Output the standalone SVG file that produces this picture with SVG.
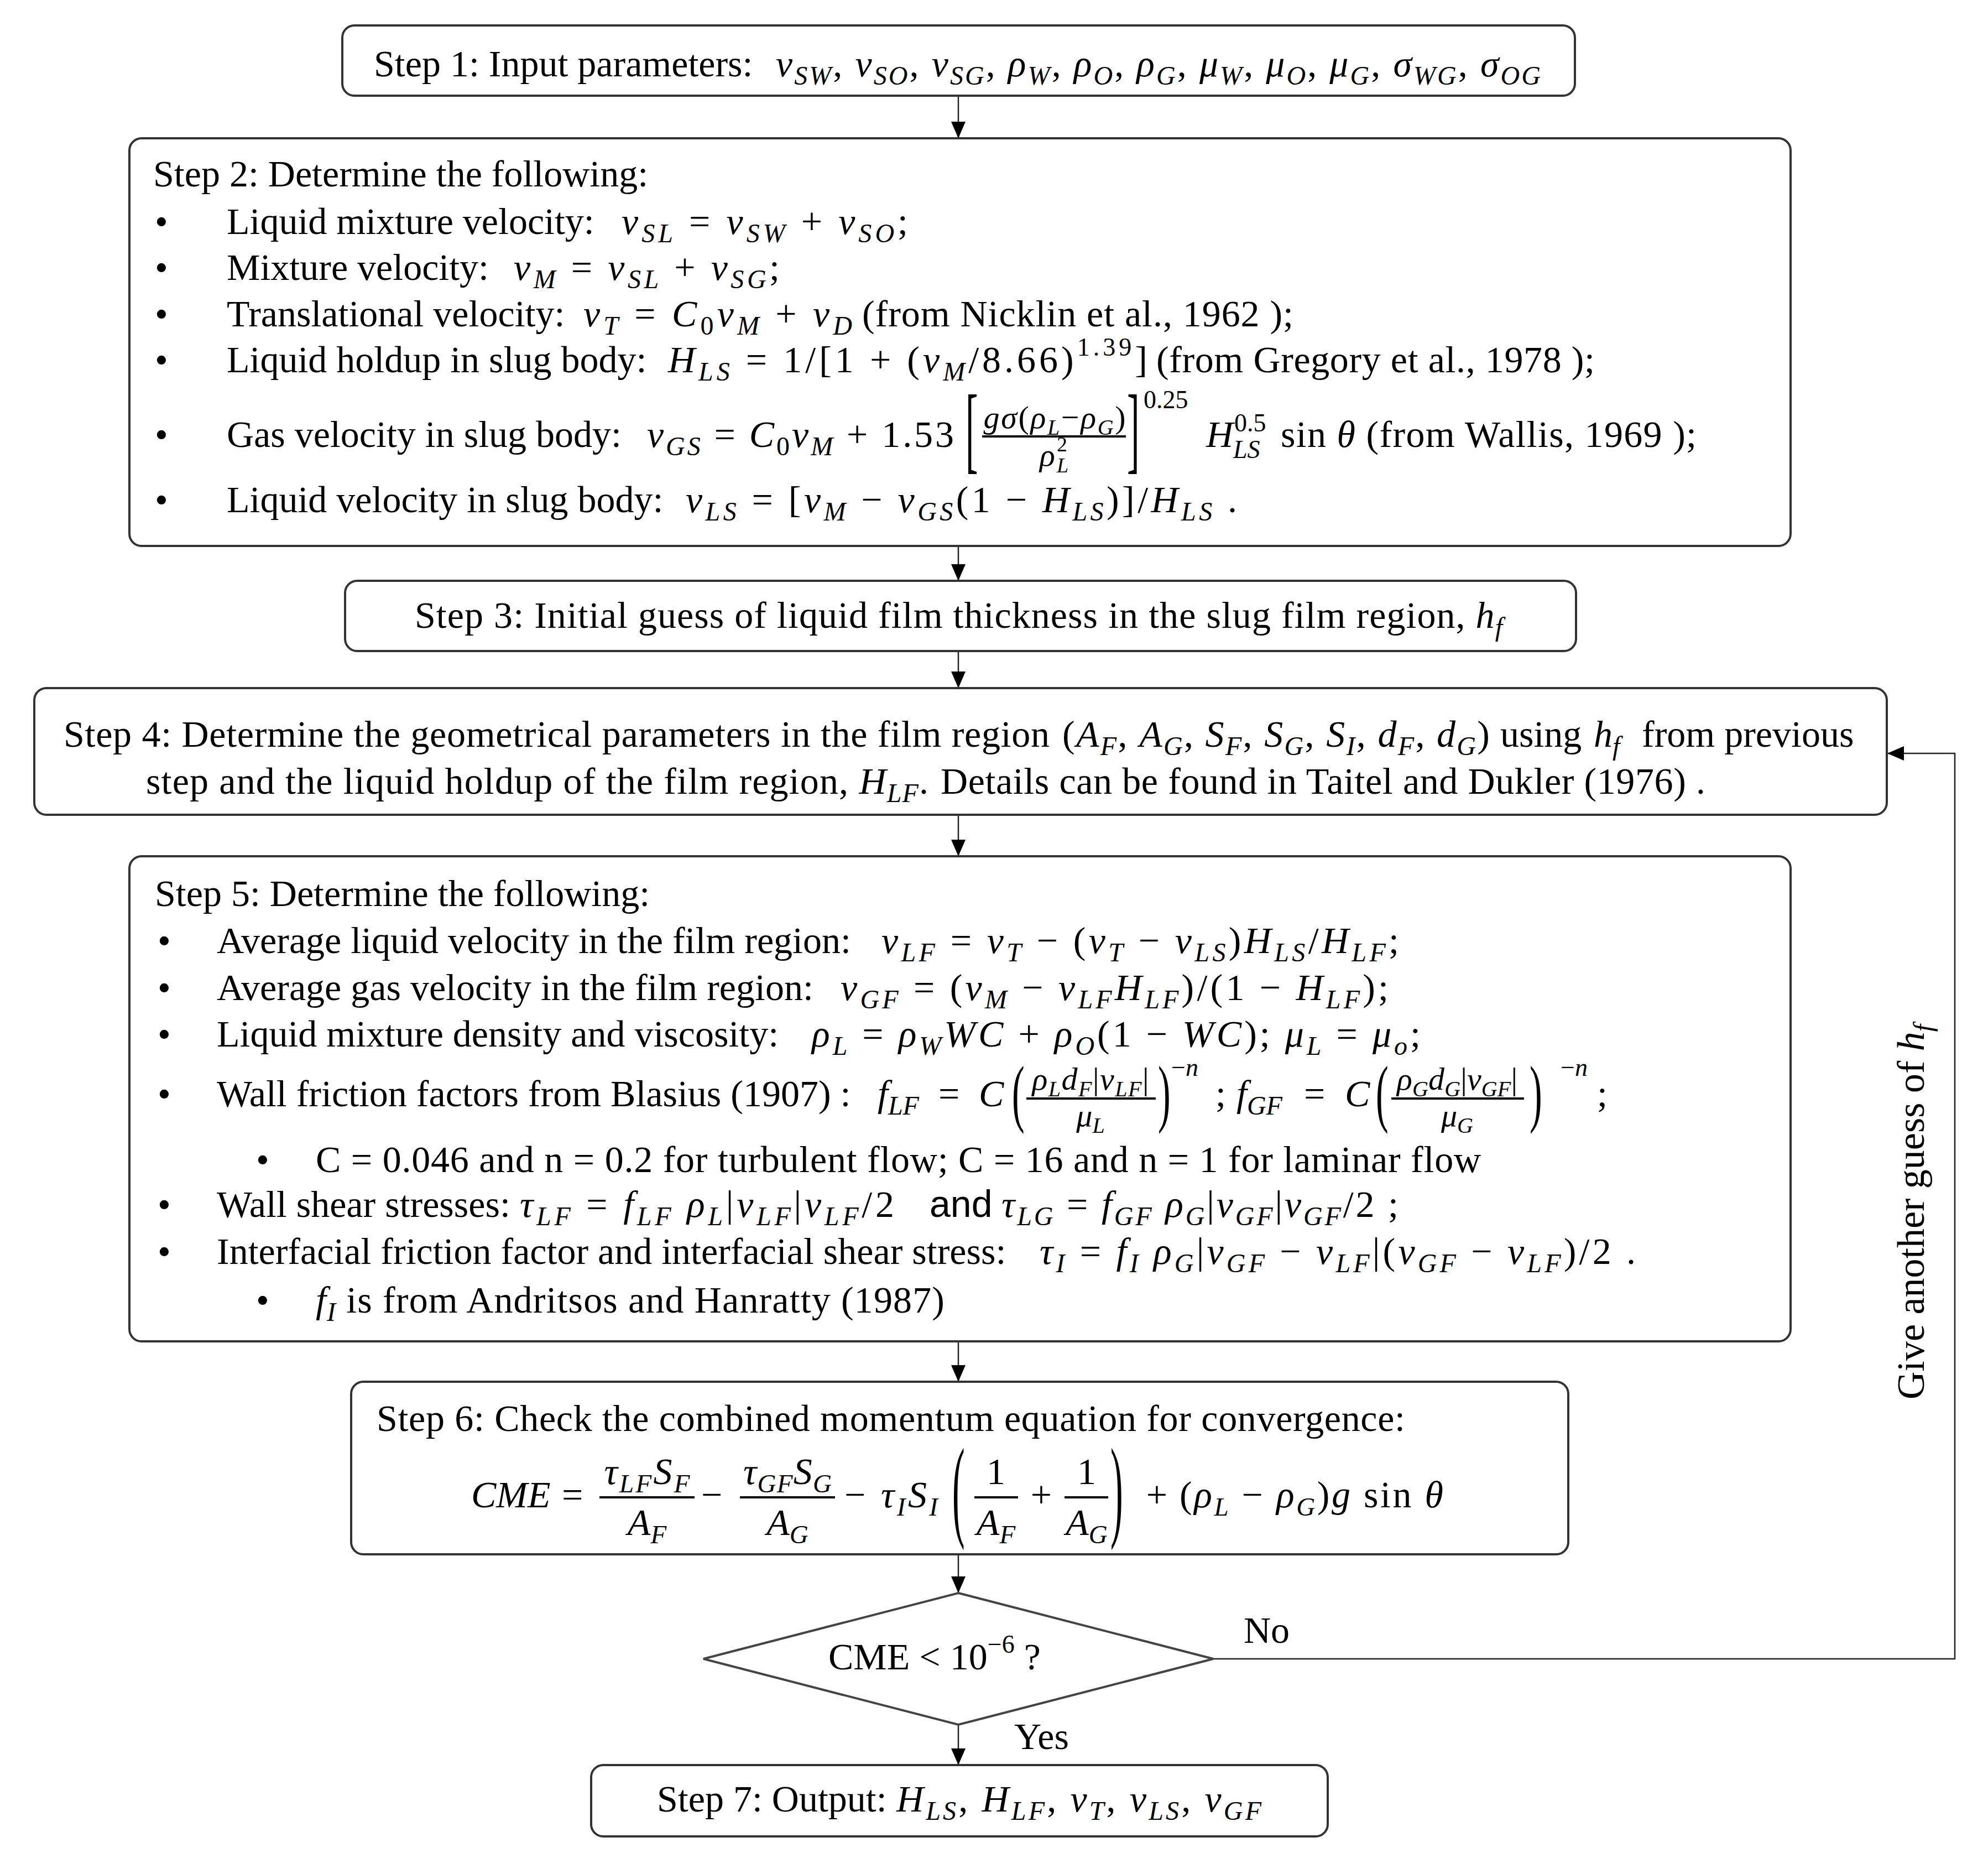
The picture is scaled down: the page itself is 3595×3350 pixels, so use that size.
<svg xmlns="http://www.w3.org/2000/svg" width="3595" height="3350" viewBox="0 0 3595 3350">
<defs>
<style>
text{font-family:"Liberation Serif","Times New Roman",serif;font-size:68px;fill:#000}
.i{font-style:italic}
.b{font-size:48px;baseline-shift:-15px}
.p{font-size:46px;baseline-shift:30px}
.f{font-size:58px}
.fb{font-size:40px;baseline-shift:-12px}
.e{font-size:68px}
.eb{font-size:47px;baseline-shift:-15px}
.sm{font-size:46px}
.sans{font-family:"Liberation Sans",Arial,sans-serif;font-size:68px}
.box{fill:#fff;stroke:#333;stroke-width:4}
.con{fill:none;stroke:#222;stroke-width:2.5}
.bar{stroke:#000;stroke-width:4}
</style>
<marker id="ah" markerUnits="userSpaceOnUse" markerWidth="32" markerHeight="26" refX="30" refY="13" orient="auto"><path d="M0,0 L30,13 L0,26 z" fill="#000"/></marker>
</defs>
<rect width="3595" height="3350" fill="#fff"/>

<g id="connectors">
<line class="con" x1="1733" y1="173" x2="1733" y2="250" marker-end="url(#ah)"/>
<line class="con" x1="1733" y1="987" x2="1733" y2="1050" marker-end="url(#ah)"/>
<line class="con" x1="1733" y1="1177" x2="1733" y2="1244" marker-end="url(#ah)"/>
<line class="con" x1="1733" y1="1473" x2="1733" y2="1548" marker-end="url(#ah)"/>
<line class="con" x1="1733" y1="2425" x2="1733" y2="2498" marker-end="url(#ah)"/>
<line class="con" x1="1733" y1="2810" x2="1733" y2="2880" marker-end="url(#ah)"/>
<line class="con" x1="1733" y1="3118" x2="1733" y2="3191" marker-end="url(#ah)"/>
<polyline class="con" points="2194,2999 3535,2999 3535,1362 3413,1362" marker-end="url(#ah)"/>
<text x="2249" y="2970">No</text>
<text x="1834" y="3162">Yes</text>
<text transform="translate(3479,2191) rotate(-90)" text-anchor="middle" style="font-size:70px">Give another guess of <tspan class="i">h</tspan><tspan class="i b">f</tspan></text>
</g>

<g id="step1">
<rect class="box" x="619" y="46" width="2229" height="127" rx="22"/>
<text x="676" y="138">Step 1: Input parameters: </text>
<text x="1403" y="138" textLength="1383" lengthAdjust="spacing"><tspan class="i">v</tspan><tspan class="i b">SW</tspan>, <tspan class="i">v</tspan><tspan class="i b">SO</tspan>, <tspan class="i">v</tspan><tspan class="i b">SG</tspan>, <tspan class="i">ρ</tspan><tspan class="i b">W</tspan>, <tspan class="i">ρ</tspan><tspan class="i b">O</tspan>, <tspan class="i">ρ</tspan><tspan class="i b">G</tspan>, <tspan class="i">μ</tspan><tspan class="i b">W</tspan>, <tspan class="i">μ</tspan><tspan class="i b">O</tspan>, <tspan class="i">μ</tspan><tspan class="i b">G</tspan>, <tspan class="i">σ</tspan><tspan class="i b">WG</tspan>, <tspan class="i">σ</tspan><tspan class="i b">OG</tspan></text>
</g>

<g id="step2">
<rect class="box" x="234" y="250" width="3004" height="737" rx="22"/>
<text x="277" y="337">Step 2: Determine the following:</text>
<text x="280" y="423">•</text>
<text x="410" y="423">Liquid mixture velocity:</text>
<text x="1124" y="423" textLength="518" lengthAdjust="spacing"><tspan class="i">v</tspan><tspan class="i b">SL</tspan> = <tspan class="i">v</tspan><tspan class="i b">SW</tspan> + <tspan class="i">v</tspan><tspan class="i b">SO</tspan>;</text>
<text x="280" y="506">•</text>
<text x="410" y="506">Mixture velocity:</text>
<text x="929" y="506" textLength="481" lengthAdjust="spacing"><tspan class="i">v</tspan><tspan class="i b">M</tspan> = <tspan class="i">v</tspan><tspan class="i b">SL</tspan> + <tspan class="i">v</tspan><tspan class="i b">SG</tspan>;</text>
<text x="280" y="590">•</text>
<text x="410" y="590">Translational velocity:</text>
<text x="1055" y="590" textLength="486" lengthAdjust="spacing"><tspan class="i">v</tspan><tspan class="i b">T</tspan> = <tspan class="i">C</tspan><tspan class="b">0</tspan><tspan class="i">v</tspan><tspan class="i b">M</tspan> + <tspan class="i">v</tspan><tspan class="i b">D</tspan></text>
<text x="1559" y="590" textLength="780" lengthAdjust="spacing">(from Nicklin et al., 1962 );</text>
<text x="280" y="673">•</text>
<text x="410" y="673">Liquid holdup in slug body:</text>
<text x="1208" y="673" textLength="867" lengthAdjust="spacing"><tspan class="i">H</tspan><tspan class="i b">LS</tspan> = 1/[1 + (<tspan class="i">v</tspan><tspan class="i b">M</tspan>/8.66)<tspan class="p">1.39</tspan>]</text>
<text x="2091" y="673" textLength="793" lengthAdjust="spacing">(from Gregory et al., 1978 );</text>
<text x="280" y="808">•</text>
<text x="410" y="808">Gas velocity in slug body:</text>
<text x="1170" y="808" textLength="555" lengthAdjust="spacing"><tspan class="i">v</tspan><tspan class="i b">GS</tspan> = <tspan class="i">C</tspan><tspan class="b">0</tspan><tspan class="i">v</tspan><tspan class="i b">M</tspan> + 1.53</text>
<text transform="translate(1746,834) scale(1,2.55)">[</text>
<text class="f" x="1907" y="774" text-anchor="middle" textLength="257" lengthAdjust="spacing"><tspan class="i">gσ</tspan>(<tspan class="i">ρ</tspan><tspan class="i fb">L</tspan>−<tspan class="i">ρ</tspan><tspan class="i fb">G</tspan>)</text>
<line class="bar" x1="1776" y1="789" x2="2036" y2="789"/>
<text class="f i" x="1880" y="842">ρ</text>
<text x="1911" y="816" style="font-size:38px">2</text>
<text class="i" x="1911" y="854" style="font-size:38px">L</text>
<text transform="translate(2038,834) scale(1,2.55)">]</text>
<text class="sm" x="2068" y="738">0.25</text>
<text class="i" x="2181" y="808">H</text>
<text class="sm" x="2232" y="780">0.5</text>
<text class="sm i" x="2230" y="828">LS</text>
<text x="2316" y="808" textLength="752" lengthAdjust="spacing">sin <tspan class="i">θ</tspan> (from Wallis, 1969 );</text>
<text x="280" y="926">•</text>
<text x="410" y="926">Liquid velocity in slug body:</text>
<text x="1240" y="926" textLength="997" lengthAdjust="spacing"><tspan class="i">v</tspan><tspan class="i b">LS</tspan> = [<tspan class="i">v</tspan><tspan class="i b">M</tspan> − <tspan class="i">v</tspan><tspan class="i b">GS</tspan>(1 − <tspan class="i">H</tspan><tspan class="i b">LS</tspan>)]/<tspan class="i">H</tspan><tspan class="i b">LS</tspan> .</text>
</g>

<g id="step3">
<rect class="box" x="624" y="1050" width="2226" height="127" rx="22"/>
<text x="750" y="1135" textLength="1967" lengthAdjust="spacing">Step 3: Initial guess of liquid film thickness in the slug film region, <tspan class="i">h</tspan><tspan class="i b">f</tspan></text>
</g>

<g id="step4">
<rect class="box" x="62" y="1244" width="3350" height="229" rx="22"/>
<text x="115" y="1350" textLength="1783" lengthAdjust="spacing">Step 4: Determine the geometrical parameters in the film region</text>
<text x="1921" y="1350" textLength="773" lengthAdjust="spacing">(<tspan class="i">A</tspan><tspan class="i b">F</tspan>, <tspan class="i">A</tspan><tspan class="i b">G</tspan>, <tspan class="i">S</tspan><tspan class="i b">F</tspan>, <tspan class="i">S</tspan><tspan class="i b">G</tspan>, <tspan class="i">S</tspan><tspan class="i b">I</tspan>, <tspan class="i">d</tspan><tspan class="i b">F</tspan>, <tspan class="i">d</tspan><tspan class="i b">G</tspan>)</text>
<text x="2713" y="1350">using</text>
<text x="2882" y="1350"><tspan class="i">h</tspan><tspan class="i b">f</tspan></text>
<text x="2969" y="1350">from previous</text>
<text x="264" y="1435" textLength="1415" lengthAdjust="spacing">step and the liquid holdup of the film region, <tspan class="i">H</tspan><tspan class="i b">LF</tspan>.</text>
<text x="1701" y="1435" textLength="1383" lengthAdjust="spacing">Details can be found in Taitel and Dukler (1976) .</text>
</g>

<g id="step5">
<rect class="box" x="234" y="1548" width="3004" height="877" rx="22"/>
<text x="280" y="1638">Step 5: Determine the following:</text>
<text x="285" y="1723">•</text>
<text x="392" y="1723">Average liquid velocity in the film region:</text>
<text x="1594" y="1723" textLength="936" lengthAdjust="spacing"><tspan class="i">v</tspan><tspan class="i b">LF</tspan> = <tspan class="i">v</tspan><tspan class="i b">T</tspan> − (<tspan class="i">v</tspan><tspan class="i b">T</tspan> − <tspan class="i">v</tspan><tspan class="i b">LS</tspan>)<tspan class="i">H</tspan><tspan class="i b">LS</tspan>/<tspan class="i">H</tspan><tspan class="i b">LF</tspan>;</text>
<text x="285" y="1808">•</text>
<text x="392" y="1808">Average gas velocity in the film region:</text>
<text x="1520" y="1808" textLength="991" lengthAdjust="spacing"><tspan class="i">v</tspan><tspan class="i b">GF</tspan> = (<tspan class="i">v</tspan><tspan class="i b">M</tspan> − <tspan class="i">v</tspan><tspan class="i b">LF</tspan><tspan class="i">H</tspan><tspan class="i b">LF</tspan>)/(1 − <tspan class="i">H</tspan><tspan class="i b">LF</tspan>);</text>
<text x="285" y="1892">•</text>
<text x="392" y="1892">Liquid mixture density and viscosity:</text>
<text x="1468" y="1892" textLength="1101" lengthAdjust="spacing"><tspan class="i">ρ</tspan><tspan class="i b">L</tspan> = <tspan class="i">ρ</tspan><tspan class="i b">W</tspan><tspan class="i">WC</tspan> + <tspan class="i">ρ</tspan><tspan class="i b">O</tspan>(1 − <tspan class="i">WC</tspan>); <tspan class="i">μ</tspan><tspan class="i b">L</tspan> = <tspan class="i">μ</tspan><tspan class="i b">o</tspan>;</text>
<text x="285" y="2000">•</text>
<text x="392" y="2000">Wall friction factors from Blasius (1907) :</text>
<text x="1587" y="2000"><tspan class="i">f</tspan><tspan class="i b">LF</tspan></text>
<text x="1697" y="2000">=</text>
<text class="i" x="1770" y="2000">C</text>
<text transform="translate(1830,2021) scale(1,2.0)">(</text>
<text class="f" x="1972" y="1970" text-anchor="middle" textLength="211" lengthAdjust="spacing"><tspan class="i">ρ</tspan><tspan class="i fb">L</tspan><tspan class="i">d</tspan><tspan class="i fb">F</tspan>|<tspan class="i">v</tspan><tspan class="i fb">LF</tspan>|</text>
<line class="bar" x1="1856" y1="1986" x2="2090" y2="1986"/>
<text class="f" x="1972" y="2036" text-anchor="middle"><tspan class="i">μ</tspan><tspan class="i fb">L</tspan></text>
<text transform="translate(2094,2021) scale(1,2.0)">)</text>
<text class="sm" x="2118" y="1945">−<tspan class="i">n</tspan></text>
<text x="2198" y="2000">;</text>
<text x="2236" y="2000"><tspan class="i">f</tspan><tspan class="i b">GF</tspan></text>
<text x="2358" y="2000">=</text>
<text class="i" x="2432" y="2000">C</text>
<text transform="translate(2488,2021) scale(1,2.0)">(</text>
<text class="f" x="2635" y="1970" text-anchor="middle" textLength="218" lengthAdjust="spacing"><tspan class="i">ρ</tspan><tspan class="i fb">G</tspan><tspan class="i">d</tspan><tspan class="i fb">G</tspan>|<tspan class="i">v</tspan><tspan class="i fb">GF</tspan>|</text>
<line class="bar" x1="2516" y1="1986" x2="2756" y2="1986"/>
<text class="f" x="2635" y="2036" text-anchor="middle"><tspan class="i">μ</tspan><tspan class="i fb">G</tspan></text>
<text transform="translate(2766,2021) scale(1,2.0)">)</text>
<text class="sm" x="2822" y="1945">−<tspan class="i">n</tspan></text>
<text x="2888" y="2000">;</text>
<text x="463" y="2119">•</text>
<text x="571" y="2119" textLength="2107" lengthAdjust="spacing">C = 0.046 and n = 0.2 for turbulent flow; C = 16 and n = 1 for laminar flow</text>
<text x="285" y="2200">•</text>
<text x="392" y="2200">Wall shear stresses:</text>
<text x="940" y="2200" textLength="677" lengthAdjust="spacing"><tspan class="i">τ</tspan><tspan class="i b">LF</tspan> = <tspan class="i">f</tspan><tspan class="i b">LF</tspan> <tspan class="i">ρ</tspan><tspan class="i b">L</tspan>|<tspan class="i">v</tspan><tspan class="i b">LF</tspan>|<tspan class="i">v</tspan><tspan class="i b">LF</tspan>/2</text>
<text class="sans" x="1681" y="2200">and</text>
<text x="1811" y="2200" textLength="718" lengthAdjust="spacing"><tspan class="i">τ</tspan><tspan class="i b">LG</tspan> = <tspan class="i">f</tspan><tspan class="i b">GF</tspan> <tspan class="i">ρ</tspan><tspan class="i b">G</tspan>|<tspan class="i">v</tspan><tspan class="i b">GF</tspan>|<tspan class="i">v</tspan><tspan class="i b">GF</tspan>/2 ;</text>
<text x="285" y="2285">•</text>
<text x="392" y="2285">Interfacial friction factor and interfacial shear stress:</text>
<text x="1880" y="2285" textLength="1078" lengthAdjust="spacing"><tspan class="i">τ</tspan><tspan class="i b">I</tspan> = <tspan class="i">f</tspan><tspan class="i b">I</tspan> <tspan class="i">ρ</tspan><tspan class="i b">G</tspan>|<tspan class="i">v</tspan><tspan class="i b">GF</tspan> − <tspan class="i">v</tspan><tspan class="i b">LF</tspan>|(<tspan class="i">v</tspan><tspan class="i b">GF</tspan> − <tspan class="i">v</tspan><tspan class="i b">LF</tspan>)/2 .</text>
<text x="463" y="2373">•</text>
<text x="571" y="2373" textLength="1137" lengthAdjust="spacing"><tspan class="i">f</tspan><tspan class="i b">I</tspan> is from Andritsos and Hanratty (1987)</text>
</g>

<g id="step6">
<rect class="box" x="635" y="2498" width="2201" height="312" rx="22"/>
<text x="681" y="2587" textLength="1860" lengthAdjust="spacing">Step 6: Check the combined momentum equation for convergence:</text>
<text class="e i" x="852" y="2725">CME</text>
<text class="e" x="1016" y="2725">=</text>
<text class="e" x="1170" y="2683" text-anchor="middle" textLength="155" lengthAdjust="spacing"><tspan class="i">τ</tspan><tspan class="i eb">LF</tspan><tspan class="i">S</tspan><tspan class="i eb">F</tspan></text>
<line class="bar" x1="1084" y1="2707" x2="1256" y2="2707"/>
<text class="e" x="1170" y="2775" text-anchor="middle"><tspan class="i">A</tspan><tspan class="i eb">F</tspan></text>
<text class="e" x="1268" y="2725">−</text>
<text class="e" x="1424" y="2683" text-anchor="middle" textLength="160" lengthAdjust="spacing"><tspan class="i">τ</tspan><tspan class="i eb">GF</tspan><tspan class="i">S</tspan><tspan class="i eb">G</tspan></text>
<line class="bar" x1="1338" y1="2707" x2="1510" y2="2707"/>
<text class="e" x="1424" y="2775" text-anchor="middle"><tspan class="i">A</tspan><tspan class="i eb">G</tspan></text>
<text class="e" x="1527" y="2725">−</text>
<text class="e" x="1593" y="2725" textLength="103" lengthAdjust="spacing"><tspan class="i">τ</tspan><tspan class="i eb">I</tspan><tspan class="i">S</tspan><tspan class="i eb">I</tspan></text>
<text transform="translate(1722,2759) scale(1,3.0)">(</text>
<text class="e" x="1801" y="2683" text-anchor="middle">1</text>
<line class="bar" x1="1762" y1="2707" x2="1841" y2="2707"/>
<text class="e" x="1801" y="2775" text-anchor="middle"><tspan class="i">A</tspan><tspan class="i eb">F</tspan></text>
<text class="e" x="1883" y="2725" text-anchor="middle">+</text>
<text class="e" x="1965" y="2683" text-anchor="middle">1</text>
<line class="bar" x1="1925" y1="2707" x2="2004" y2="2707"/>
<text class="e" x="1965" y="2775" text-anchor="middle"><tspan class="i">A</tspan><tspan class="i eb">G</tspan></text>
<text transform="translate(2008,2759) scale(1,3.0)">)</text>
<text class="e" x="2092" y="2725" text-anchor="middle">+</text>
<text class="e" x="2133" y="2725" textLength="477" lengthAdjust="spacing">(<tspan class="i">ρ</tspan><tspan class="i eb">L</tspan> − <tspan class="i">ρ</tspan><tspan class="i eb">G</tspan>)<tspan class="i">g</tspan> sin <tspan class="i">θ</tspan></text>
</g>

<g id="decision">
<polygon points="1733,2880 2194,2999 1733,3118 1272,2999" fill="#fff" stroke="#444" stroke-width="4"/>
<text x="1498" y="3018">CME &lt; 10<tspan class="p">−6</tspan> ?</text>
</g>

<g id="step7">
<rect class="box" x="1069" y="3191" width="1332" height="129" rx="22"/>
<text x="1188" y="3275">Step 7: Output:</text>
<text x="1621" y="3275" textLength="660" lengthAdjust="spacing"><tspan class="i">H</tspan><tspan class="i b">LS</tspan>, <tspan class="i">H</tspan><tspan class="i b">LF</tspan>, <tspan class="i">v</tspan><tspan class="i b">T</tspan>, <tspan class="i">v</tspan><tspan class="i b">LS</tspan>, <tspan class="i">v</tspan><tspan class="i b">GF</tspan></text>
</g>
</svg>
